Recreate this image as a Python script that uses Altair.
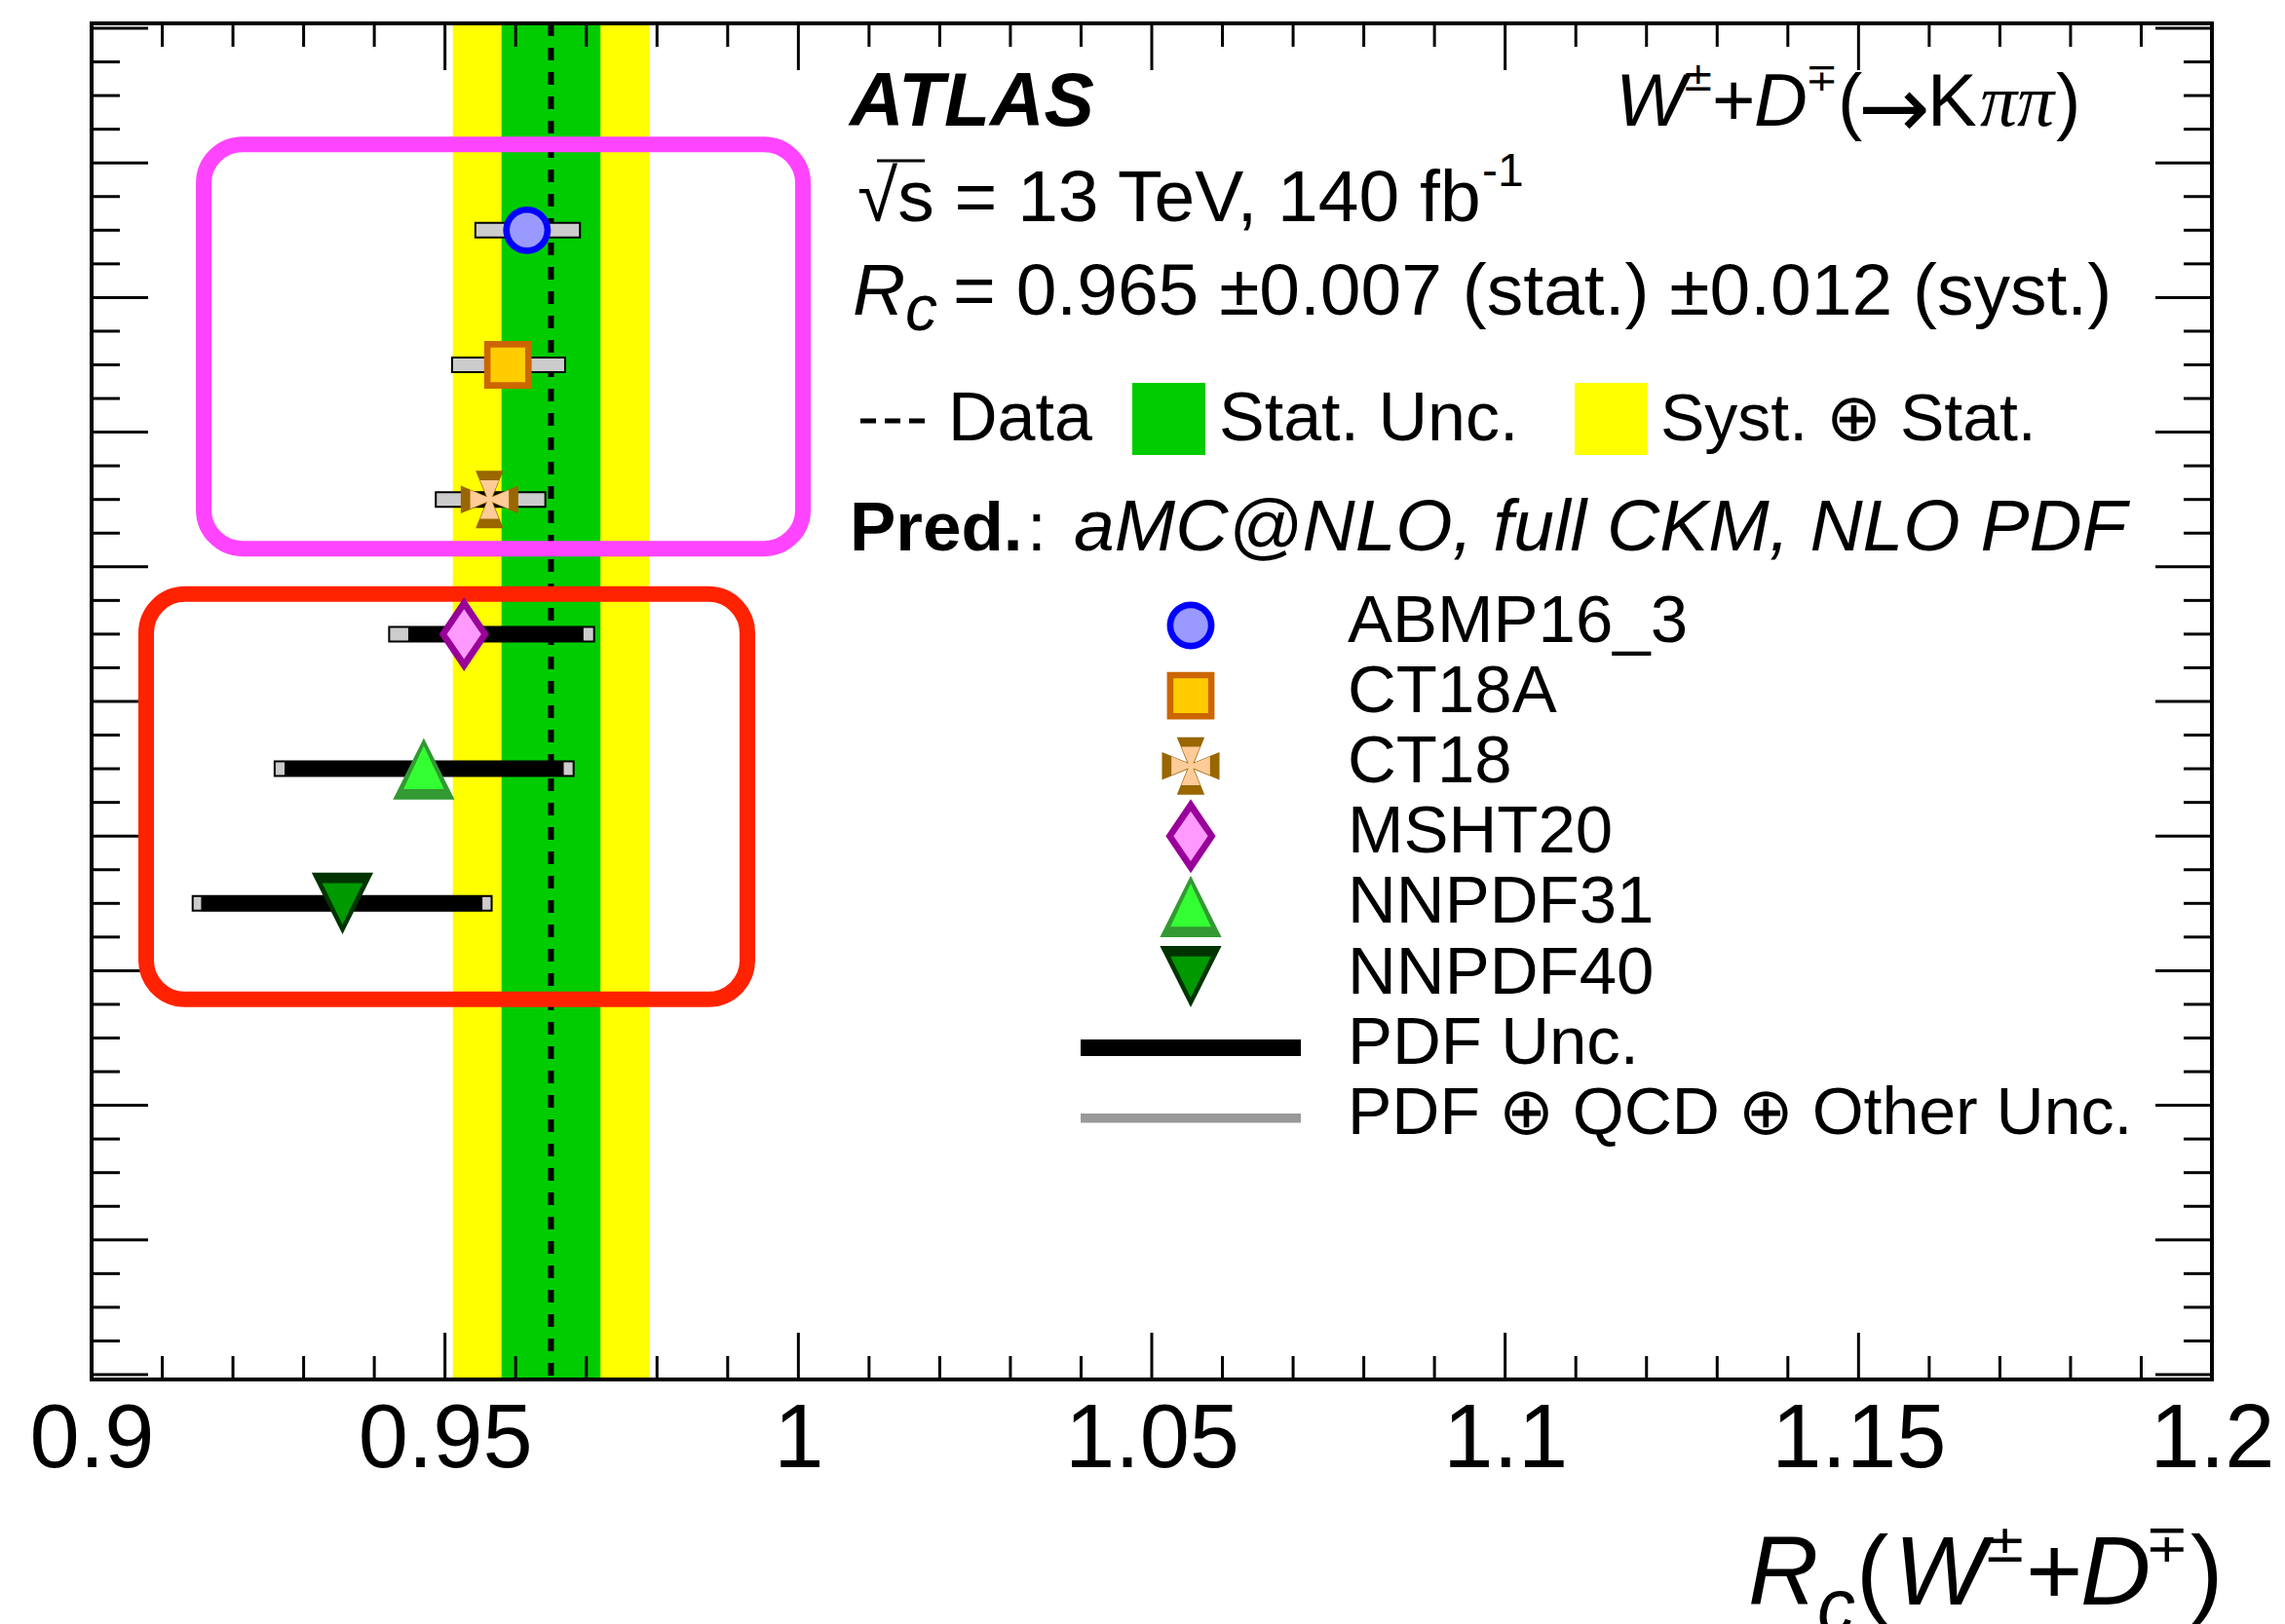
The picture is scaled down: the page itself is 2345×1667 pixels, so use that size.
import math

import altair as alt
import numpy as np
import pandas as pd

# ---------------------------------------------------------------- data
rc_value = 0.965
rc_stat = 0.007
rc_syst = 0.012

pdf_sets = ["ABMP16_3", "CT18A", "CT18", "MSHT20", "NNPDF31", "NNPDF40"]
pred_rows = [8.5, 7.5, 6.5, 5.5, 4.5, 3.5]
pred_central = [0.9616, 0.9589, 0.9563, 0.9527, 0.9470, 0.9355]
pdf_unc_lo = [0.9601, 0.9574, 0.9548, 0.9448, 0.9273, 0.9155]
pdf_unc_hi = [0.9631, 0.9604, 0.9578, 0.9696, 0.9668, 0.9553]
total_unc_lo = [0.9543, 0.9510, 0.9487, 0.9421, 0.9259, 0.9143]
total_unc_hi = [0.9691, 0.9670, 0.9642, 0.9711, 0.9682, 0.9566]

x_tick_labels = [0.9, 0.95, 1.0, 1.05, 1.1, 1.15, 1.2]

# ---------------------------------------------------------------- layout
W, H = 2176, 1392
SANS = "Liberation Sans, Arial, Helvetica, DejaVu Sans, sans-serif"
SERIF = "Liberation Serif, Times New Roman, DejaVu Serif, serif"
SYM = "DejaVu Sans, sans-serif"

xs = alt.Scale(domain=[0.9, 1.2], nice=False, zero=False)
ys = alt.Scale(domain=[0, 10], nice=False, zero=False)
x_axis = alt.Axis(
    values=x_tick_labels, format="~g", ticks=False, domain=False, grid=False,
    labelFont=SANS, labelFontSize=92, labelColor="black", labelPadding=16,
    labelFlush=False, labelOverlap=False, labelBound=False,
)

# ---------------------------------------------------------------- marker shapes
# custom symbol paths live in a [-1, 1] box; with size 6400 one unit is 40 px
MARKER_SIZE = 6400


def poly(pts):
    return "M" + "L".join(f"{x:.3f},{y:.3f}" for x, y in pts) + "Z"


def circ(r):
    return f"M{r},0A{r},{r} 0 1,1 {-r},0A{r},{r} 0 1,1 {r},0Z"


def square(h):
    return poly([(-h, -h), (h, -h), (h, h), (-h, h)])


def cross(e, w, n):
    return poly([(-w, -e), (w, -e), (n, -n), (e, -w), (e, w), (n, n),
                 (w, e), (-w, e), (-n, n), (-e, w), (-e, -w), (-n, -n)])


def diamond(hw, hh):
    return poly([(0, -hh), (hw, 0), (0, hh), (-hw, 0)])


marker_style = pd.DataFrame({
    "pdf": pdf_sets,
    "outer_path": [
        circ(0.61), square(0.61), cross(0.7375, 0.355, 0.095), diamond(0.64, 0.95),
        poly([(0, -0.79), (0.79, 0.79), (-0.79, 0.79)]),
        poly([(-0.79, -0.79), (0.79, -0.79), (0, 0.79)]),
    ],
    "inner_path": [
        circ(0.445), square(0.445), cross(0.495, 0.24, 0.06), diamond(0.44, 0.64),
        poly([(0, -0.585), (0.52, 0.52), (-0.52, 0.52)]),
        poly([(-0.52, -0.52), (0.52, -0.52), (0, 0.54)]),
    ],
    "border": ["#0000ff", "#cc6600", "#996600", "#990099", "#339933", "#003300"],
    "fillc": ["#9999ff", "#ffcc00", "#ffcc99", "#ff99ff", "#33ff33", "#009900"],
})

# ---------------------------------------------------------------- tables
pred = pd.DataFrame({
    "pdf": pdf_sets, "row": pred_rows, "central": pred_central,
    "pdf_lo": pdf_unc_lo, "pdf_hi": pdf_unc_hi,
    "tot_lo": total_unc_lo, "tot_hi": total_unc_hi,
})
pred_marks = pred.merge(marker_style, on="pdf")

rc_total = math.hypot(rc_stat, rc_syst)
bands = pd.DataFrame({
    "lo": [rc_value - rc_total, rc_value - rc_stat],
    "hi": [rc_value + rc_total, rc_value + rc_stat],
    "col": ["#ffff00", "#00cc00"],
})
measurement = pd.DataFrame({"rc": [rc_value]})

x_ticks = pd.DataFrame({"v": np.round(np.arange(0.90, 1.2001, 0.01), 2)})
x_ticks["major"] = (np.round(x_ticks["v"] * 100).astype(int) % 5) == 0
y_ticks = pd.DataFrame({"v": np.arange(0, 10.001, 0.25)})
y_ticks["major"] = (y_ticks["v"] % 1) == 0

# highlight boxes around the two groups of predictions (data units)
group_boxes = pd.DataFrame({
    "x0": [0.91586, 0.90772], "x1": [1.00065, 0.99279],
    "y0": [9.138, 5.797], "y1": [6.135, 2.787],
    "col": ["#ff44ff", "#ff2200"],
})

one_row = alt.Data(values=[{"k": 1}])

# ---------------------------------------------------------------- layers
band_layer = alt.Chart(bands).mark_rect().encode(
    x=alt.X("lo:Q", scale=xs, axis=x_axis, title=None), x2="hi:Q",
    y=alt.value(0), y2=alt.value(H),
    fill=alt.Fill("col:N", scale=None),
)


def x_tick_layer(major, top):
    ln = 48 if major else 24
    y0, y1 = (0, ln) if top else (H - ln, H)
    return alt.Chart(x_ticks).transform_filter(
        alt.datum.major if major else ~alt.datum.major
    ).mark_rule(color="black", strokeWidth=3).encode(
        x=alt.X("v:Q", scale=xs, axis=x_axis, title=None),
        y=alt.value(y0), y2=alt.value(y1),
    )


def y_tick_layer(major, left):
    ln = 58 if major else 29
    x0, x1 = (0, ln) if left else (W - ln, W)
    return alt.Chart(y_ticks).transform_filter(
        alt.datum.major if major else ~alt.datum.major
    ).mark_rule(color="black", strokeWidth=3).encode(
        y=alt.Y("v:Q", scale=ys, axis=None),
        x=alt.value(x0), x2=alt.value(x1),
    )


tick_layers = [x_tick_layer(m, t) for m in (False, True) for t in (True, False)] + \
              [y_tick_layer(m, l) for m in (False, True) for l in (True, False)]

data_line = alt.Chart(measurement).mark_rule(
    color="black", strokeWidth=6, strokeDash=[13, 12]
).encode(
    x=alt.X("rc:Q", scale=xs, axis=x_axis, title=None),
    y=alt.value(0), y2=alt.value(H),
)

box_layer = alt.Chart(group_boxes).mark_rect(
    cornerRadius=40, fillOpacity=0, strokeWidth=16
).encode(
    x=alt.X("x0:Q", scale=xs, axis=x_axis, title=None), x2="x1:Q",
    y=alt.Y("y0:Q", scale=ys, axis=None), y2="y1:Q",
    stroke=alt.Stroke("col:N", scale=None),
)

total_bars = alt.Chart(pred).mark_bar(
    orient="horizontal", size=15, fill="#cccccc", stroke="black", strokeWidth=2
).encode(
    x=alt.X("tot_lo:Q", scale=xs, axis=x_axis, title=None), x2="tot_hi:Q",
    y=alt.Y("row:Q", scale=ys, axis=None),
)
pdf_bars = alt.Chart(pred).mark_bar(
    orient="horizontal", size=16, fill="black"
).encode(
    x=alt.X("pdf_lo:Q", scale=xs, axis=x_axis, title=None), x2="pdf_hi:Q",
    y=alt.Y("row:Q", scale=ys, axis=None),
)


def marker_layer(src, inner, x_enc, y_enc):
    return alt.Chart(src).mark_point(
        filled=True, size=MARKER_SIZE, opacity=1, strokeWidth=0
    ).encode(
        x=x_enc, y=y_enc,
        shape=alt.Shape("inner_path:N" if inner else "outer_path:N", scale=None, legend=None),
        fill=alt.Fill("fillc:N" if inner else "border:N", scale=None, legend=None),
    )


pred_x = alt.X("central:Q", scale=xs, axis=x_axis, title=None)
pred_y = alt.Y("row:Q", scale=ys, axis=None)
markers = [marker_layer(pred_marks, False, pred_x, pred_y),
           marker_layer(pred_marks, True, pred_x, pred_y)]

frame = alt.Chart(one_row).mark_rect(
    fillOpacity=0, stroke="black", strokeWidth=4
).encode(x=alt.value(0), x2=alt.value(W), y=alt.value(0), y2=alt.value(H))

# ---------------------------------------------------------------- legend
LEG_SYM_X, LEG_TXT_X = 1128, 1289
LEG_SYM_Y0, LEG_TXT_Y0, LEG_DY = 618, 635, 72.1

legend_syms = marker_style.copy()
legend_syms["lx"] = LEG_SYM_X
legend_syms["ly"] = [LEG_SYM_Y0 + i * LEG_DY for i in range(len(pdf_sets))]
leg_x = alt.X("lx:Q", scale=None, axis=None)
leg_y = alt.Y("ly:Q", scale=None, axis=None)
legend_markers = [marker_layer(legend_syms, False, leg_x, leg_y),
                  marker_layer(legend_syms, True, leg_x, leg_y)]

leg_pdf_line = alt.Chart(one_row).mark_rule(color="black", strokeWidth=17).encode(
    x=alt.value(1015), x2=alt.value(1241), y=alt.value(LEG_TXT_Y0 + 6 * LEG_DY - 16))
leg_tot_line = alt.Chart(one_row).mark_rule(color="#999999", strokeWidth=9.5).encode(
    x=alt.value(1015), x2=alt.value(1241), y=alt.value(LEG_TXT_Y0 + 7 * LEG_DY - 16))

leg_data_dash = alt.Chart(one_row).mark_rule(color="black", strokeWidth=5, strokeDash=[16, 9]).encode(
    x=alt.value(789), x2=alt.value(855), y=alt.value(408))
leg_stat_box = alt.Chart(one_row).mark_rect(fill="#00cc00").encode(
    x=alt.value(1068), x2=alt.value(1143), y=alt.value(369), y2=alt.value(443))
leg_syst_box = alt.Chart(one_row).mark_rect(fill="#ffff00").encode(
    x=alt.value(1522), x2=alt.value(1597), y=alt.value(369), y2=alt.value(443))
# overline of the square-root sign over "s"
sqrt_bar = alt.Chart(one_row).mark_rule(color="black", strokeWidth=3).encode(
    x=alt.value(806), x2=alt.value(855), y=alt.value(141))

# ---------------------------------------------------------------- text
# (text, x, baseline y, font size, family, style, weight)
texts = [
    ("ATLAS", 778, 105, 77, SANS, "italic", "bold"),
    ("W", 1564, 104.5, 76, SANS, "italic", "normal"),
    ("\u00b1", 1632, 69, 40, SYM, "normal", "normal"),
    ("+", 1663, 104.5, 76, SANS, "normal", "normal"),
    ("D", 1706, 104.5, 76, SANS, "italic", "normal"),
    ("\u2213", 1759, 69, 40, SYM, "normal", "normal"),
    ("(", 1792, 104.5, 76, SANS, "normal", "normal"),
    ("\u2192", 1813, 117, 88, SYM, "normal", "normal"),
    ("K", 1884, 104.5, 76, SANS, "normal", "normal"),
    ("\u03c0\u03c0", 1938, 104.5, 76, SERIF, "italic", "normal"),
    (")", 2016, 104.5, 76, SANS, "normal", "normal"),
    ("\u221as = 13 TeV, 140 fb", 786, 202.7, 75, SANS, "normal", "normal"),
    ("-1", 1427, 167, 48, SANS, "normal", "normal"),
    ("R", 781, 298.5, 75, SANS, "italic", "normal"),
    ("c", 835, 315, 66, SANS, "italic", "normal"),
    ("= 0.965 \u00b10.007 (stat.) \u00b10.012 (syst.)", 884, 298.5, 75, SANS, "normal", "normal"),
    ("Data", 879, 427.7, 70, SANS, "normal", "normal"),
    ("Stat. Unc.", 1157, 427.7, 70, SANS, "normal", "normal"),
    ("Syst. \u2295 Stat.", 1610, 427.7, 68, SANS, "normal", "normal"),
    ("Pred.", 778, 541, 71, SANS, "normal", "bold"),
    (":", 960, 541, 71, SANS, "normal", "normal"),
    ("aMC@NLO, full CKM, NLO PDF", 1008, 541, 75, SANS, "italic", "normal"),
    # x-axis title
    ("R", 1700, 1622.7, 100, SANS, "italic", "normal"),
    ("c", 1771, 1651, 78, SANS, "italic", "normal"),
    ("(", 1811, 1622.7, 100, SANS, "normal", "normal"),
    ("W", 1850, 1622.7, 100, SANS, "italic", "normal"),
    ("\u00b1", 1941, 1579, 54, SYM, "normal", "normal"),
    ("+", 1985, 1622.7, 100, SANS, "normal", "normal"),
    ("D", 2041, 1622.7, 100, SANS, "italic", "normal"),
    ("\u2213", 2107, 1579, 54, SYM, "normal", "normal"),
    (")", 2154, 1622.7, 100, SANS, "normal", "normal"),
]
legend_labels = pdf_sets + ["PDF Unc.", "PDF \u2295 QCD \u2295 Other Unc."]
for i, lab in enumerate(legend_labels):
    size = 68 if "\u2295" in lab else 69
    texts.append((lab, LEG_TXT_X, LEG_TXT_Y0 + i * LEG_DY, size, SANS, "normal", "normal"))

text_df = pd.DataFrame(texts, columns=["t", "px", "py", "fs", "family", "style", "weight"])
text_layers = []
for (family, style, weight), grp in text_df.groupby(["family", "style", "weight"]):
    text_layers.append(
        alt.Chart(grp[["t", "px", "py", "fs"]]).mark_text(
            align="left", baseline="alphabetic", color="black",
            font=family, fontStyle=style, fontWeight=weight,
        ).encode(
            x=alt.X("px:Q", scale=None, axis=None),
            y=alt.Y("py:Q", scale=None, axis=None),
            text="t:N",
            size=alt.Size("fs:Q", scale=None, legend=None),
        )
    )

chart = alt.layer(
    band_layer,
    *tick_layers,
    data_line,
    box_layer,
    total_bars,
    pdf_bars,
    *markers,
    frame,
    leg_data_dash, leg_stat_box, leg_syst_box, sqrt_bar,
    leg_pdf_line, leg_tot_line,
    *legend_markers,
    *text_layers,
).properties(
    width=W, height=H,
    autosize=alt.AutoSizeParams(type="none"),
    padding={"left": 94, "top": 24, "right": 75, "bottom": 251},
    background="white",
).configure_view(strokeWidth=0)

chart.save("out.html", embed_options={"renderer": "svg", "actions": False})
